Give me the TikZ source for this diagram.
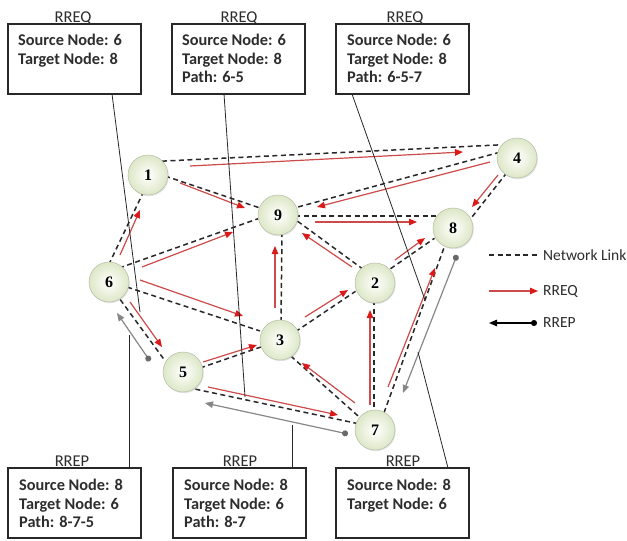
\documentclass[tikz,border=0pt]{standalone}
\usepackage{fontspec}
\setmainfont{Carlito}
\newfontfamily\numfont{Liberation Serif}
\usetikzlibrary{arrows.meta,calc,shadows}
\definecolor{ngreen}{RGB}{196,214,162}
\definecolor{nlight}{RGB}{242,246,232}
\definecolor{nedge}{RGB}{180,190,165}
\definecolor{reqcol}{RGB}{205,75,75}
\definecolor{reqhead}{RGB}{218,25,25}
\definecolor{repcol}{RGB}{135,135,135}
\definecolor{repdot}{RGB}{105,105,105}
\definecolor{dk}{RGB}{40,40,40}
\definecolor{txtcol}{RGB}{45,45,45}
\pgfdeclarelayer{background}
\pgfsetlayers{background,main}
\pgfdeclareradialshading{nshade}{\pgfpointorigin}{color(0bp)=(white); color(10bp)=(nlight); color(42bp)=(ngreen); color(50bp)=(ngreen)}
\newcommand\lnkline[4]{\draw[lnk] ($(#1)+#2$) -- ($(#3)+#4$);}
\newcommand\reqarrow[4]{\draw[req] ($(#1)+#2$) -- ($(#3)+#4$);}
\newcommand\reparrow[4]{\draw[rep] ($(#1)+#2$) -- ($(#3)+#4$);}
\begin{document}
\begin{tikzpicture}[x=1pt,y=-1pt,
  netnode/.style={circle, minimum size=40pt, inner sep=0pt, shading=nshade, draw=nedge, line width=0.5pt,
    font=\numfont\bfseries\fontsize{16}{16}\selectfont,
    drop shadow={opacity=0.22,shadow xshift=0.8pt,shadow yshift=-1.2pt}},
  lnk/.style={draw=dk, line width=1.5pt, dash pattern=on 5pt off 3.5pt, shorten <=-3pt, shorten >=-3pt},
  req/.style={draw=reqcol, line width=1.2pt, arrows={-Triangle[length=8pt,width=6.5pt,color=reqhead]}},
  rep/.style={draw=repcol, line width=1.2pt, arrows={Circle[length=6pt,color=repdot]-Triangle[length=8pt,width=6.5pt,color=repcol]}},
  repleg/.style={draw=black, line width=1.2pt, arrows={Circle[length=6pt]-Triangle[length=8pt,width=6.5pt]}},
  conn/.style={draw=dk, line width=0.8pt},
  boxframe/.style={draw=dk, line width=1.2pt, minimum width=133pt, minimum height=70pt, inner sep=0pt, outer sep=0pt, anchor=north west},
  boxtxt/.style={anchor=north west, inner sep=0pt, align=left, text=txtcol, font=\bfseries\fontsize{16.3}{18.5}\selectfont},
  lbl/.style={anchor=base, inner sep=0pt, text=txtcol, font=\fontsize{16.5}{18}\selectfont},
  lgtxt/.style={anchor=west, inner sep=0pt, text=txtcol, font=\fontsize{15.5}{18}\selectfont}
]
\useasboundingbox (0,0) rectangle (627,541);

% network nodes
\node[netnode] (n1) at (148,175) {1};
\node[netnode] (n4) at (517,158) {4};
\node[netnode] (n9) at (278,215) {9};
\node[netnode] (n8) at (453,228) {8};
\node[netnode] (n6) at (109,282) {6};
\node[netnode] (n2) at (375,283) {2};
\node[netnode] (n3) at (280,340) {3};
\node[netnode] (n5) at (183,372) {5};
\node[netnode] (n7) at (375,430) {7};

% boxes
\node[boxframe] (tb1) at (8,24) {};
\node[boxtxt] (tb1t) at ($(tb1.north west)+(10,10)$) {Source Node: 6\\Target Node: 8};
\node[lbl] (tb1l) at (73,22) {RREQ};
\node[boxframe] (tb2) at (172,24) {};
\node[boxtxt] (tb2t) at ($(tb2.north west)+(10,10)$) {Source Node: 6\\Target Node: 8\\Path: 6-5};
\node[lbl] (tb2l) at (239,22) {RREQ};
\node[boxframe] (tb3) at (336,24) {};
\node[boxtxt] (tb3t) at ($(tb3.north west)+(11,10)$) {Source Node: 6\\Target Node: 8\\Path: 6-5-7};
\node[lbl] (tb3l) at (405,22) {RREQ};

\node[boxframe] (bb1) at (8,468) {};
\node[boxtxt] (bb1t) at ($(bb1.north west)+(11,11)$) {Source Node: 8\\Target Node: 6\\Path: 8-7-5};
\node[lbl] (bb1l) at (72,466) {RREP};
\node[boxframe] (bb2) at (173,468) {};
\node[boxtxt] (bb2t) at ($(bb2.north west)+(11,11)$) {Source Node: 8\\Target Node: 6\\Path: 8-7};
\node[lbl] (bb2l) at (240,466) {RREP};
\node[boxframe] (bb3) at (336,468) {};
\node[boxtxt] (bb3t) at ($(bb3.north west)+(11,11)$) {Source Node: 8\\Target Node: 6};
\node[lbl] (bb3l) at (403,466) {RREP};

% legend
\coordinate (lgA1) at (489,255); \coordinate (lgA2) at (537,255);
\coordinate (lgB1) at (489,291); \coordinate (lgB2) at (538,291);
\coordinate (lgC1) at (537,323); \coordinate (lgC2) at (489,323);
\draw[lnk, shorten <=0pt, shorten >=0pt] (lgA1) -- (lgA2);
\node[lgtxt] (lgT1) at (543,255) {Network Link};
\draw[req] (lgB1) -- (lgB2);
\node[lgtxt] (lgT2) at (543,291) {RREQ};
\draw[repleg] (lgC1) -- (lgC2);
\node[lgtxt] (lgT3) at (543,323) {RREP};

% connector end points
\coordinate (c1) at (140,312);
\coordinate (c2) at (245,397);
\coordinate (c3) at (425,300);
\coordinate (c4) at (129,335);
\coordinate (c5) at (292,425);
\coordinate (c6) at (418,352);

\begin{pgfonlayer}{background}
\fill[white] (0,0) rectangle (627,541);
% network links
\lnkline{n1}{(17,-14)}{n4}{(-20,-13)}
\lnkline{n1}{(20,2)}{n9}{(-18,-7)}
\lnkline{n6}{(1,-20)}{n1}{(-6,20)}
\lnkline{n6}{(13,-15)}{n9}{(-18,3)}
\lnkline{n6}{(21,6)}{n3}{(-23,-10)}
\lnkline{n6}{(13,20)}{n5}{(-20,-14)}
\lnkline{n4}{(-20,-5)}{n9}{(20,-8)}
\lnkline{n4}{(-12,17)}{n8}{(19,-11)}
\lnkline{n9}{(20,1)}{n8}{(-18,-12)}
\lnkline{n9}{(22,8)}{n2}{(-15,-16)}
\lnkline{n9}{(4,20)}{n3}{(1,-20)}
\lnkline{n3}{(18,-10)}{n2}{(-22,10)}
\lnkline{n2}{(18,-16)}{n8}{(-21,12)}
\lnkline{n2}{(-1,20)}{n7}{(-1,-20)}
\lnkline{n7}{(10,-20)}{n8}{(-8,17)}
\lnkline{n5}{(20,-5)}{n3}{(-22,8)}
\lnkline{n5}{(7,16)}{n7}{(-20,-7)}
\lnkline{n3}{(13,18)}{n7}{(-18,-15)}
% RREQ arrows
\reqarrow{n1}{(42,-9)}{n4}{(-54,-6)}
\reqarrow{n1}{(32,8)}{n9}{(-33,-7)}
\reqarrow{n6}{(11,-27)}{n1}{(-8,35)}
\reqarrow{n6}{(33,-15)}{n9}{(-45,17)}
\reqarrow{n6}{(31,-2)}{n3}{(-37,-24)}
\reqarrow{n6}{(21,20)}{n5}{(-21,-25)}
\reqarrow{n4}{(-27,4)}{n9}{(39,-8)}
\reqarrow{n4}{(-19,17)}{n8}{(19,-21)}
\reqarrow{n9}{(37,7)}{n8}{(-36,-6)}
\reqarrow{n2}{(-23,-16)}{n9}{(24,18)}
\reqarrow{n3}{(-5,-32)}{n9}{(-3,31)}
\reqarrow{n3}{(25,-23)}{n2}{(-27,7)}
\reqarrow{n2}{(20,-23)}{n8}{(-28,10)}
\reqarrow{n7}{(-5,-25)}{n2}{(-5,27)}
\reqarrow{n7}{(13,-43)}{n8}{(-18,40)}
\reqarrow{n5}{(20,-10)}{n3}{(-23,5)}
\reqarrow{n5}{(25,15)}{n7}{(-37,-15)}
\reqarrow{n7}{(-20,-27)}{n3}{(22,23)}
% RREP arrows
\reparrow{n8}{(4,27)}{n7}{(28,-37)}
\reparrow{n7}{(-27,4)}{n5}{(22,31)}
\reparrow{n5}{(-33,-11)}{n6}{(8,31)}
% box connectors
\draw[conn] (tb1.south west) ++(104,0) -- (c1);
\draw[conn] (tb2.south west) ++(52,0) -- (c2);
\draw[conn] (tb3.south west) ++(16,0) -- (c3);
\draw[conn] (bb1.north west) ++(121,0) -- (c4);
\draw[conn] (bb2.north west) ++(119,0) -- (c5);
\draw[conn] (bb3.north west) ++(112,0) -- (c6);
\end{pgfonlayer}
\end{tikzpicture}
\end{document}
